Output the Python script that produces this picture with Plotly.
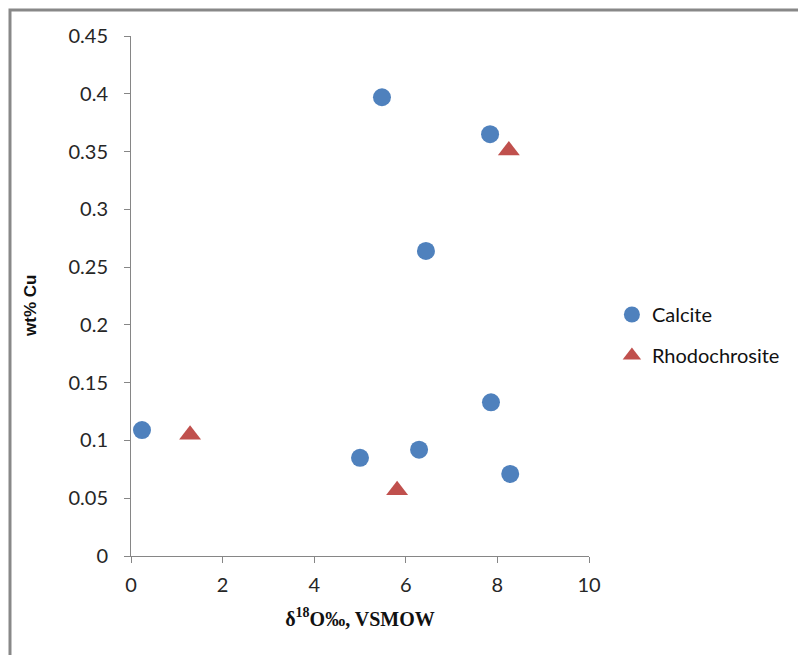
import plotly.graph_objects as go

calcite_x = [0.24, 5.48, 7.84, 6.44, 7.86, 5.0, 6.29, 8.28]
calcite_y = [0.109, 0.397, 0.365, 0.264, 0.133, 0.085, 0.092, 0.071]
rhodo_x = [1.29, 8.25, 5.81]
rhodo_y = [0.105, 0.351, 0.057]

x_ticks = [0, 2, 4, 6, 8, 10]
y_ticks = [0, 0.05, 0.1, 0.15, 0.2, 0.25, 0.3, 0.35, 0.4, 0.45]
y_tick_text = ["0", "0.05", "0.1", "0.15", "0.2", "0.25", "0.3", "0.35", "0.4", "0.45"]

fig = go.Figure()
fig.add_trace(go.Scatter(
    x=calcite_x, y=calcite_y, mode="markers", name="Calcite",
    legendgroup="a",
    marker=dict(symbol="circle", size=18, color="#4F81BD",
                line=dict(width=0)),
))
fig.add_trace(go.Scatter(
    x=rhodo_x, y=rhodo_y, mode="markers", name="Rhodochrosite",
    legendgroup="b",
    marker=dict(symbol="triangle-up", size=19, color="#C0504D",
                line=dict(width=0)),
))

axis_color = "#868686"
sans = "Lato, Liberation Sans, Arial, sans-serif"
tick_font = dict(family=sans, size=20, color="#262626")

fig.update_layout(
    width=798, height=655,
    margin=dict(l=131, r=209, t=36, b=99, autoexpand=False),
    paper_bgcolor="white", plot_bgcolor="white",
    showlegend=True,
    legend=dict(x=1.05, y=0.425, xanchor="left", yanchor="middle",
                font=dict(family=sans, size=20, color="#111111"),
                traceorder="grouped", tracegroupgap=12, itemwidth=30,
                bgcolor="rgba(0,0,0,0)"),
    xaxis=dict(range=[0, 10], tickvals=x_ticks, ticks="outside", ticklen=6,
               tickcolor=axis_color, showline=True, linecolor=axis_color,
               linewidth=1, showgrid=False, zeroline=False, tickfont=tick_font,
               ticklabelstandoff=5,
               title=dict(text="<b>δ<sup>18</sup>O‰, VSMOW</b>", standoff=16,
                          font=dict(family="Liberation Serif, Times New Roman, serif",
                                    size=20, color="#111111")),
               ),
    yaxis=dict(range=[0, 0.45], tickvals=y_ticks, ticktext=y_tick_text,
               ticks="outside", ticklen=6, tickcolor=axis_color,
               showline=True, linecolor=axis_color, linewidth=1,
               showgrid=False, zeroline=False, tickfont=tick_font,
               ticklabelstandoff=12,
               ),
    annotations=[dict(text="<b>wt% Cu</b>", textangle=-90,
                      xref="paper", yref="paper",
                      x=(31 - 131) / 458, y=(556 - 306) / 520,
                      xanchor="center", yanchor="middle", showarrow=False,
                      font=dict(family="Liberation Sans, Arial, sans-serif",
                                size=17, color="#111111"))],
    shapes=[dict(type="rect", xref="paper", yref="paper",
                 x0=-0.2642, x1=2.0, y0=-2.0, y1=1.05,
                 line=dict(color="#888888", width=3), layer="below")],
)

fig.write_html("out.html")
